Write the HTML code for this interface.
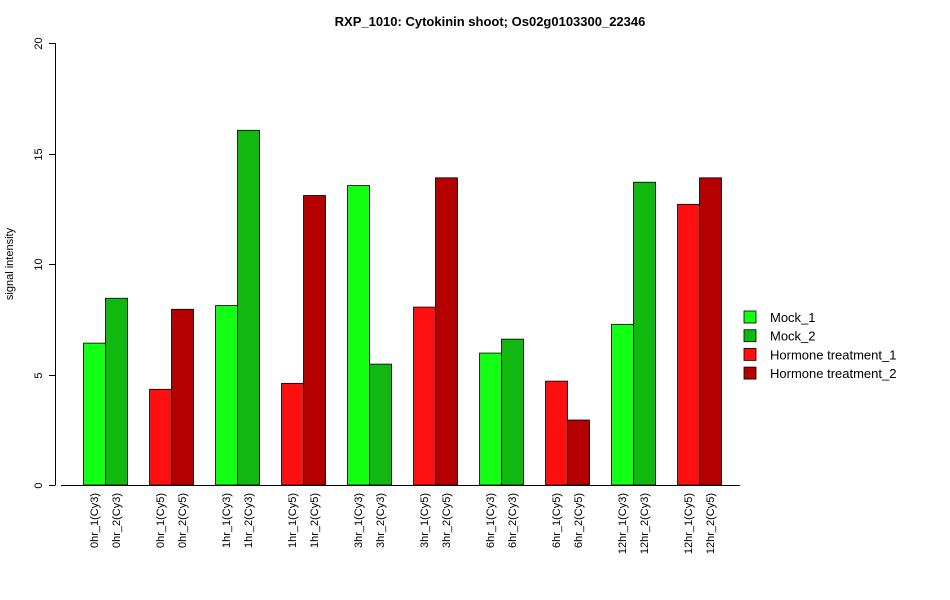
<!DOCTYPE html>
<html><head><meta charset="utf-8"><style>
html,body{margin:0;padding:0;background:#fff;}
svg{display:block;font-family:"Liberation Sans",Arial,sans-serif;}
</style></head><body>
<svg id="chart" width="950" height="600" viewBox="0 0 950 600" xmlns="http://www.w3.org/2000/svg">
<text x="490" y="26" text-anchor="middle" font-size="13" font-weight="bold">RXP_1010: Cytokinin shoot; Os02g0103300_22346</text>
<text transform="translate(13,264) rotate(-90)" text-anchor="middle" font-size="11">signal intensity</text>
<g id="yaxis"></g>
<g id="bars"></g>
<g id="xlabels"></g>
<line x1="61" y1="485.5" x2="740" y2="485.5" stroke="#000" stroke-width="1"/>
<g id="legend"></g>
</svg>
<script>
const categories = ["0hr_1(Cy3)","0hr_2(Cy3)","0hr_1(Cy5)","0hr_2(Cy5)","1hr_1(Cy3)","1hr_2(Cy3)","1hr_1(Cy5)","1hr_2(Cy5)","3hr_1(Cy3)","3hr_2(Cy3)","3hr_1(Cy5)","3hr_2(Cy5)","6hr_1(Cy3)","6hr_2(Cy3)","6hr_1(Cy5)","6hr_2(Cy5)","12hr_1(Cy3)","12hr_2(Cy3)","12hr_1(Cy5)","12hr_2(Cy5)"];
const values = [6.42,8.45,4.33,7.95,8.12,16.05,4.6,13.1,13.55,5.47,8.05,13.9,5.97,6.6,4.7,2.94,7.27,13.7,12.7,13.9];
const seriesIndex = [0,1,2,3,0,1,2,3,0,1,2,3,0,1,2,3,0,1,2,3];
const seriesNames = ["Mock_1","Mock_2","Hormone treatment_1","Hormone treatment_2"];
const seriesColors = ["#13ff13","#10b810","#ff1010","#b50000"];
const yTicks = [0,5,10,15,20];

const NS="http://www.w3.org/2000/svg";
const y0=485, yTop=43, yMax=20;
const yScale=v=>y0-(v/yMax)*(y0-yTop);
const barW=22, startX=83, period=66;
const xScale=i=>startX+Math.floor(i/2)*period+(i%2)*barW;
function mk(t,a){const e=document.createElementNS(NS,t);for(const k in a)e.setAttribute(k,a[k]);return e;}

const ya=document.getElementById('yaxis');
const axl=mk('line',{x1:55.5,x2:55.5,y1:yScale(0),y2:yScale(20),stroke:'#000'});


ya.appendChild(axl);
yTicks.forEach(t=>{
  const y=Math.round(yScale(t))+0.5;
  const l=mk('line',{x1:49,x2:55.5,y1:y,y2:y,stroke:'#000'});
  
  
  ya.appendChild(l);
  const tx=mk('text',{transform:`translate(42,${y}) rotate(-90)`,'text-anchor':'middle','font-size':'11'});
  tx.textContent=t;
  
  
  ya.appendChild(tx);
});

const bg=document.getElementById('bars'), xl=document.getElementById('xlabels');
values.forEach((v,i)=>{
  const x=xScale(i), y=yScale(v);
  const r=mk('rect',{x:x+0.5,y:y,width:barW,height:y0-y,fill:seriesColors[seriesIndex[i]],stroke:'#000','stroke-width':'0.8'});
  
  
  bg.appendChild(r);
  const t=mk('text',{transform:`translate(${x+barW/2+4},493) rotate(-90)`,'text-anchor':'end','font-size':'11'});
  t.textContent=categories[i];
  
  
  xl.appendChild(t);
});

const lg=document.getElementById('legend');
seriesNames.forEach((n,i)=>{
  const y=311+i*18.7;
  const r=mk('rect',{x:744,y:y,width:12,height:12,fill:seriesColors[i],stroke:'#000','stroke-width':'0.8'});
  
  
  lg.appendChild(r);
  const t=mk('text',{x:770,y:y+11,'font-size':'13'});
  t.textContent=n;
  
  
  lg.appendChild(t);
});
</script>
</body></html>
